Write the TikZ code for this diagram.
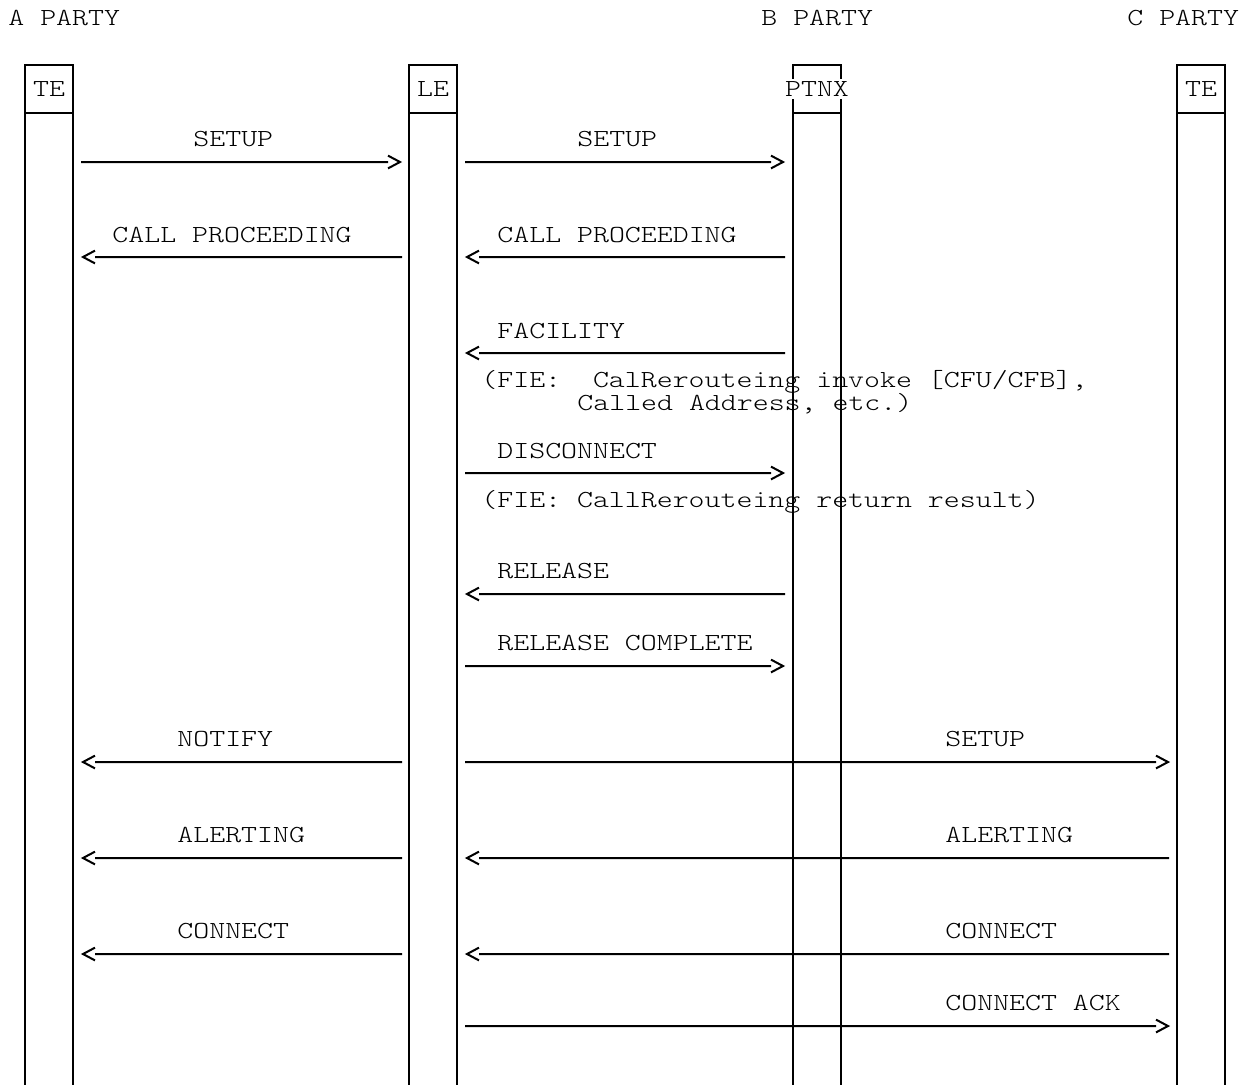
\documentclass[tikz,border=0pt]{standalone}
\usepackage{fontspec}
\setmonofont[FakeStretch=1.24]{Latin Modern Mono Light}
\usetikzlibrary{calc}
\begin{document}
\begin{tikzpicture}[x=0.5pt,y=-0.5pt,
  font=\ttfamily\fontsize{12.25}{16}\selectfont,
  hdr/.style={draw, line width=1pt, minimum width=24pt, minimum height=24pt, inner sep=0pt, outer sep=0pt},
  life/.style={line width=1pt},
  lbl/.style={anchor=base west, inner sep=0pt},
  msg/.style={line width=1pt, to path={-- ($(\tikztotarget)!6pt!(\tikztostart)$)
      ($(\tikztotarget)!6.8pt!28:(\tikztostart)$) -- (\tikztotarget) -- ($(\tikztotarget)!6.8pt!-28:(\tikztostart)$)}}]
\useasboundingbox (0,0) rectangle (1257,1084);
\coordinate (bot) at (0,1090);

% party titles
\node[lbl] (pa) at (8,25) {A PARTY};
\node[lbl] (pb) at (761,25) {B PARTY};
\node[lbl] (pc) at (1127,25) {C PARTY};

% header boxes
\node[hdr] (teA) at (49,89) {TE};
\node[hdr] (le) at (433,89) {LE};
\node[hdr] (ptnx) at (817,89) {};
\node[hdr] (teC) at (1201,89) {TE};
\node[fill=white, inner xsep=0.5pt, inner ysep=1.5pt] (ptnxl) at (817,89) {PTNX};

% lifelines
\foreach \n in {teA,le,ptnx,teC}{
  \draw[life] (\n.south west) -- (\n.south west |- bot);
  \draw[life] (\n.south east) -- (\n.south east |- bot);
}

% message end points
\coordinate (a1s) at (81,162);  \coordinate (a1e) at (400,162);
\coordinate (b1s) at (465,162); \coordinate (b1e) at (783,162);
\coordinate (a2s) at (402,257); \coordinate (a2e) at (83,257);
\coordinate (b2s) at (785,257); \coordinate (b2e) at (467,257);
\coordinate (b3s) at (785,353); \coordinate (b3e) at (467,353);
\coordinate (b4s) at (465,473); \coordinate (b4e) at (783,473);
\coordinate (b5s) at (785,594); \coordinate (b5e) at (467,594);
\coordinate (b6s) at (465,666); \coordinate (b6e) at (783,666);
\coordinate (a7s) at (402,762); \coordinate (a7e) at (83,762);
\coordinate (c7s) at (465,762); \coordinate (c7e) at (1168,762);
\coordinate (a8s) at (402,858); \coordinate (a8e) at (83,858);
\coordinate (c8s) at (1169,858); \coordinate (c8e) at (467,858);
\coordinate (a9s) at (402,954); \coordinate (a9e) at (83,954);
\coordinate (c9s) at (1169,954); \coordinate (c9e) at (467,954);
\coordinate (c10s) at (465,1026); \coordinate (c10e) at (1168,1026);

% messages
\draw[msg] (a1s) to (a1e);
\draw[msg] (b1s) to (b1e);
\draw[msg] (a2s) to (a2e);
\draw[msg] (b2s) to (b2e);
\draw[msg] (b3s) to (b3e);
\draw[msg] (b4s) to (b4e);
\draw[msg] (b5s) to (b5e);
\draw[msg] (b6s) to (b6e);
\draw[msg] (a7s) to (a7e);
\draw[msg] (c7s) to (c7e);
\draw[msg] (a8s) to (a8e);
\draw[msg] (c8s) to (c8e);
\draw[msg] (a9s) to (a9e);
\draw[msg] (c9s) to (c9e);
\draw[msg] (c10s) to (c10e);

% labels
\node[lbl] (t1a) at (193,146) {SETUP};
\node[lbl] (t1b) at (577,146) {SETUP};
\node[lbl] (t2a) at (112,242) {CALL PROCEEDING};
\node[lbl] (t2b) at (497,242) {CALL PROCEEDING};
\node[lbl] (t3b) at (497,338) {FACILITY};
\node[lbl] (f1) at (481,387) {(FIE:\ \ CalRerouteing invoke [CFU/CFB],};
\node[lbl] (f2) at (577,410) {Called Address, etc.)};
\node[lbl] (t4b) at (497,458) {DISCONNECT};
\node[lbl] (f3) at (481,507) {(FIE: CallRerouteing return result)};
\node[lbl] (t5b) at (497,578) {RELEASE};
\node[lbl] (t6b) at (497,650) {RELEASE COMPLETE};
\node[lbl] (t7a) at (177,746) {NOTIFY};
\node[lbl] (t7c) at (945,746) {SETUP};
\node[lbl] (t8a) at (177,842) {ALERTING};
\node[lbl] (t8c) at (945,842) {ALERTING};
\node[lbl] (t9a) at (177,938) {CONNECT};
\node[lbl] (t9c) at (945,938) {CONNECT};
\node[lbl] (t10c) at (945,1010) {CONNECT ACK};
\end{tikzpicture}
\end{document}
